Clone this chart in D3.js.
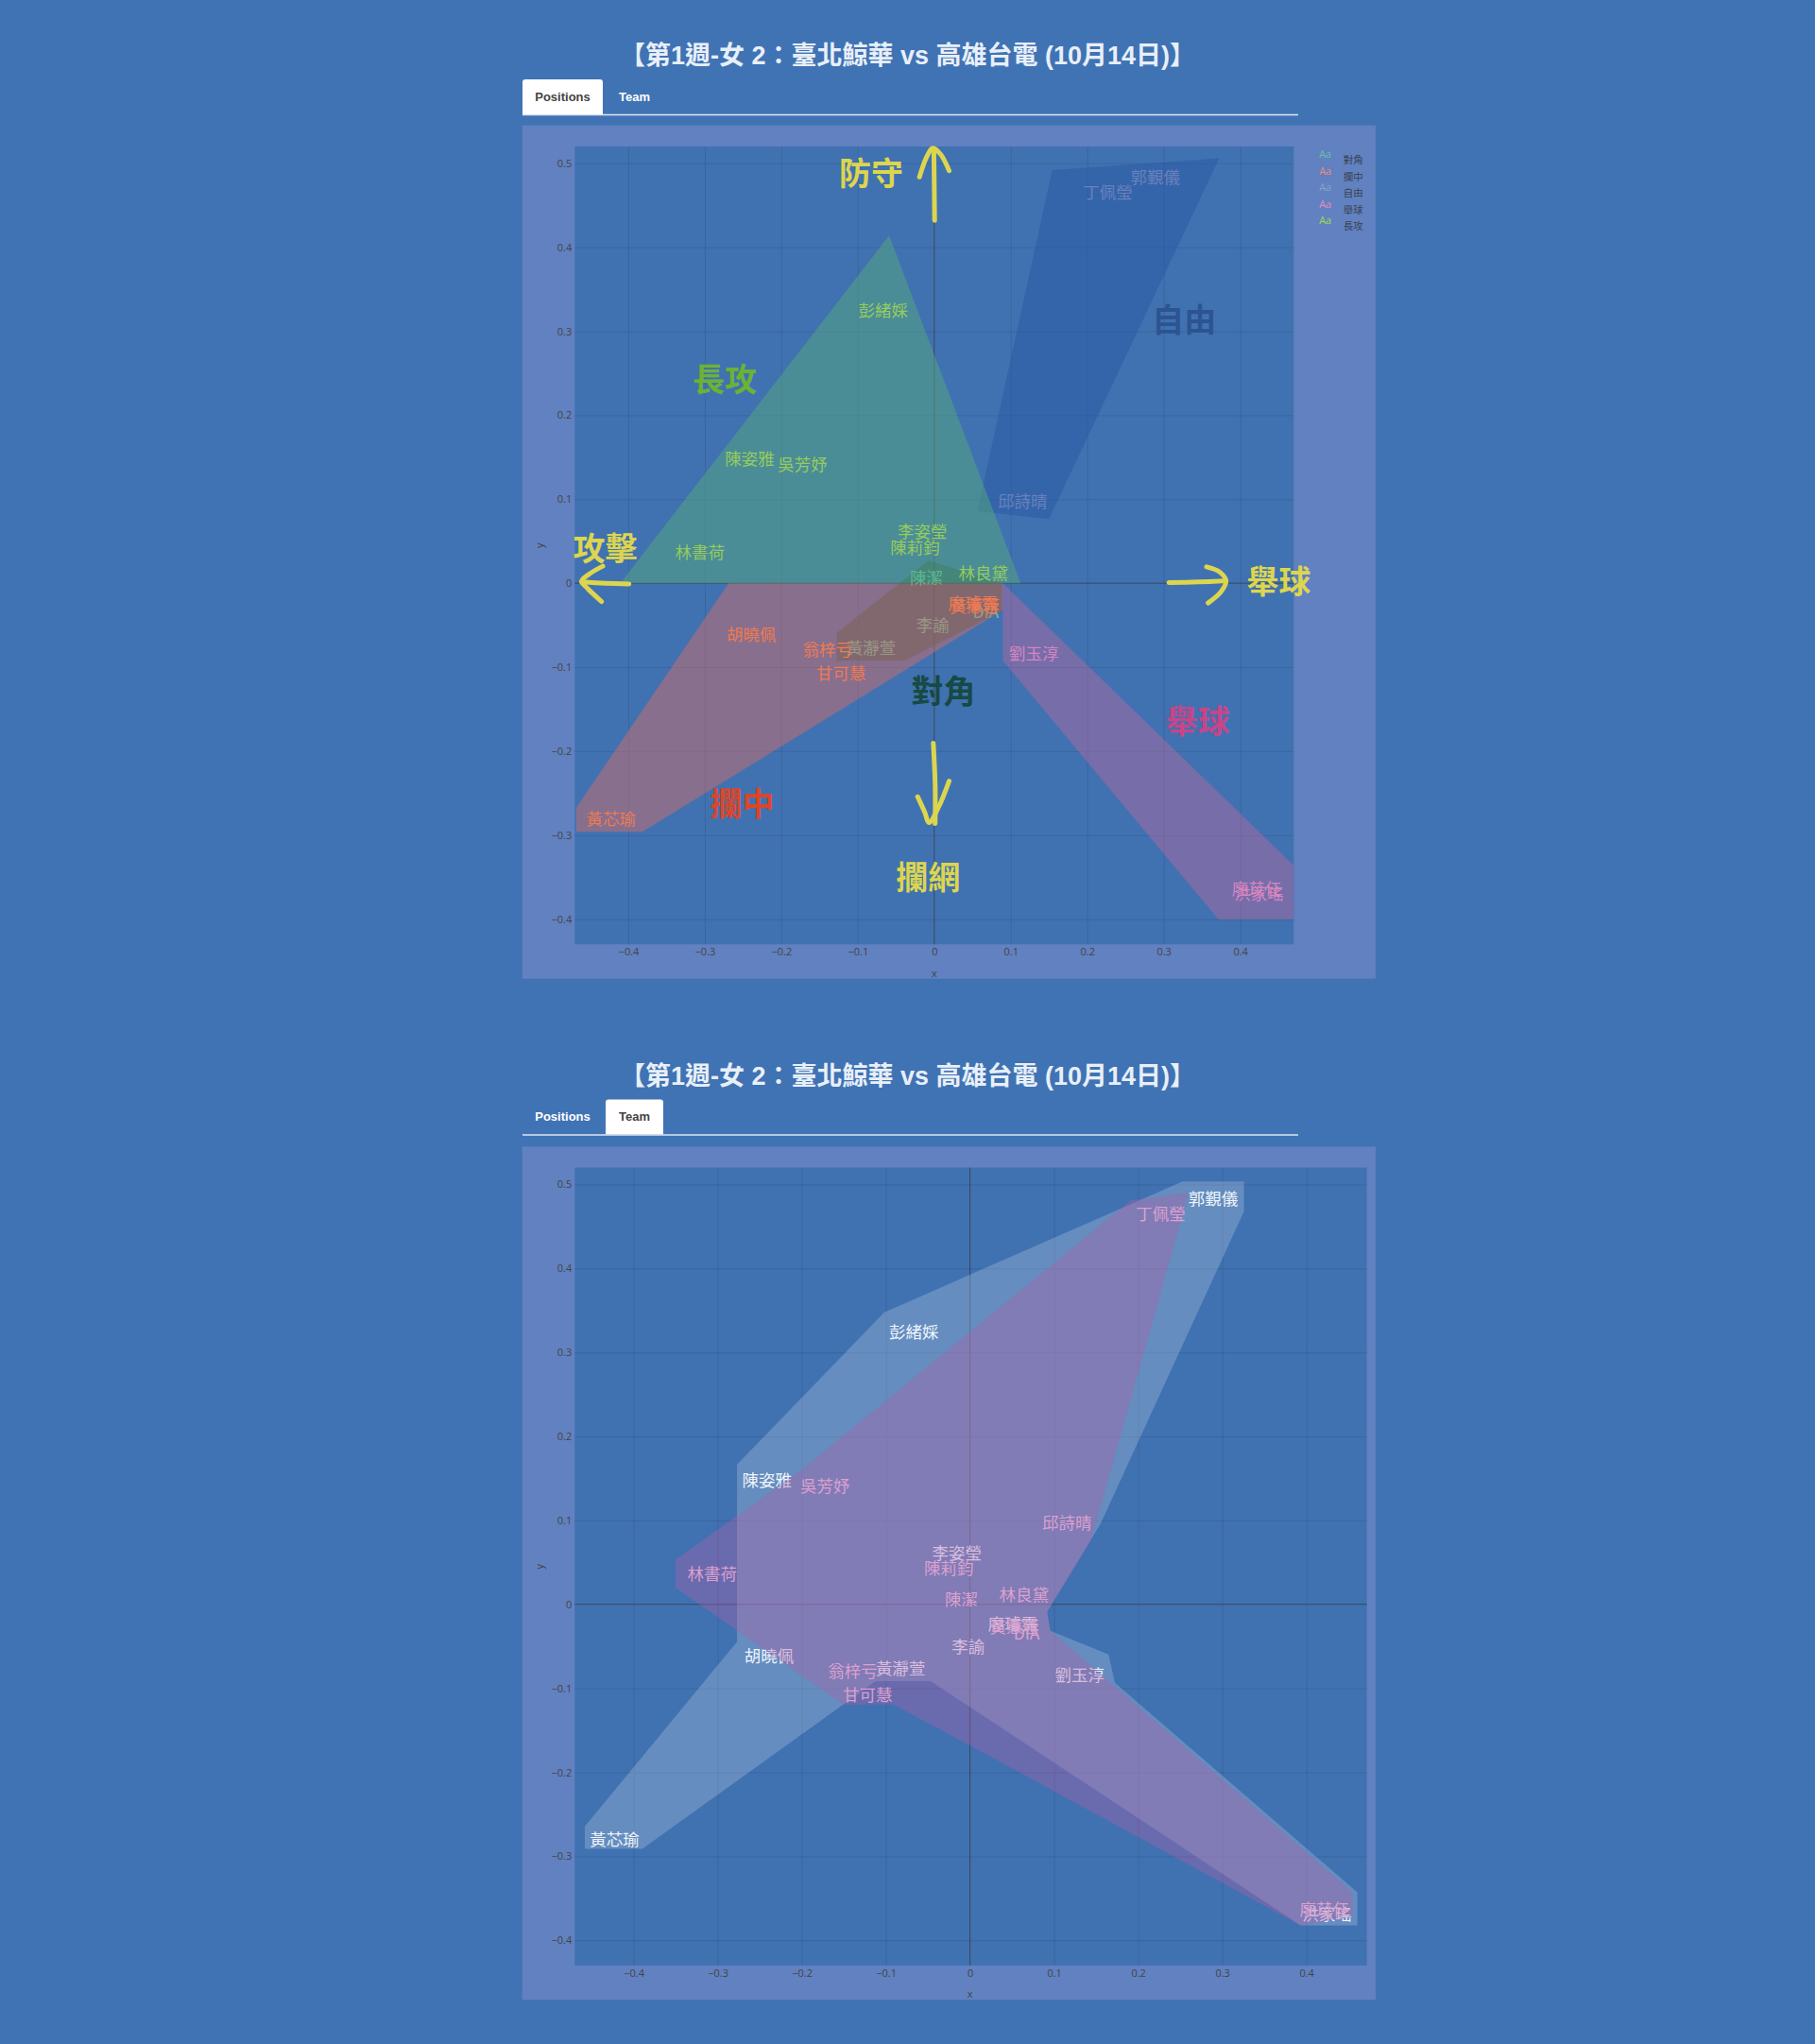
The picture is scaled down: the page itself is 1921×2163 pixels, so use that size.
<!DOCTYPE html>
<html>
<head>
<meta charset="utf-8">
<script src="https://cdn.jsdelivr.net/npm/d3@7"></script>
<style>
  body { margin: 0; background: #4073b4; }
  svg { display: block; }
</style>
</head>
<body>
<svg id="page" width="1921" height="2163"></svg>
<script>
// ---- data ----
const titleText = "【第1週-女 2：臺北鯨華 vs 高雄台電 (10月14日)】";
const tabNames = ["Positions", "Team"];

const positions = ["對角", "攔中", "自由", "舉球", "長攻"];
const teams = ["A", "B"];

const playerNames = ["陳潔", "李諭", "黃瀞萱", "DIA", "胡曉佩", "翁梓亏", "甘可慧", "黃芯瑜", "廖璿霈", "黃蕙蓉",
  "郭覲儀", "丁佩瑩", "邱詩晴", "劉玉淳", "洪家瑤", "廖苡任",
  "彭緒婇", "陳姿雅", "吳芳妤", "林書荷", "李姿瑩", "陳莉鈞", "林良黛"];
const playerX = [-0.0101, -0.002, -0.0824, 0.0674, -0.239, -0.1395, -0.1218, -0.4225, 0.051, 0.053,
  0.2891, 0.2268, 0.1153, 0.1304, 0.4245, 0.4215,
  -0.0668, -0.2413, -0.1722, -0.3065, -0.0155, -0.025, 0.0643];
const playerY = [0.0072, -0.049, -0.0753, -0.0333, -0.0605, -0.0786, -0.1063, -0.2792, -0.0225, -0.026,
  0.4846, 0.4662, 0.0981, -0.0829, -0.368, -0.3625,
  0.326, 0.1489, 0.1422, 0.0378, 0.0625, 0.044, 0.0126];
const playerPos = ["對角", "對角", "對角", "對角", "攔中", "攔中", "攔中", "攔中", "攔中", "攔中",
  "自由", "自由", "自由", "舉球", "舉球", "舉球",
  "長攻", "長攻", "長攻", "長攻", "長攻", "長攻", "長攻"];
const playerTeam = ["B", "A", "A", "B", "A", "B", "B", "A", "A", "B",
  "A", "B", "B", "A", "A", "B",
  "A", "A", "B", "B", "A", "B", "B"];

// outline of each position group (x, y)
const hullDiag = [[-0.0081, 0.027], [0.0885, 0.0], [0.0885, -0.033], [-0.039, -0.0925], [-0.1275, -0.0925], [-0.1275, -0.0593]];
const hullMid = [[-0.2687, 0], [0.0898, 0], [0.0898, -0.032], [-0.3815, -0.296], [-0.468, -0.296], [-0.468, -0.2674]];
const hullLibero = [[0.1543, 0.492], [0.3725, 0.5058], [0.150, 0.0765], [0.0564, 0.0858]];
const hullSetter = [[0.0898, 0], [0.48, -0.345], [0.48, -0.4005], [0.3716, -0.4005], [0.0898, -0.0923]];
const hullOutside = [[-0.059, 0.414], [-0.4104, 0], [0.113, 0]];

// outline of each team
const hullTeamA = [[-0.458, -0.2643], [-0.277, -0.0446], [-0.277, 0.1664], [-0.1019, 0.3477], [0.2528, 0.5035],
  [0.3258, 0.5035], [0.3258, 0.4678], [0.1554, 0.0962], [0.0917, -0.0089], [0.0955, -0.0314], [0.1648, -0.0596],
  [0.1723, -0.0933], [0.4607, -0.343], [0.4607, -0.3824], [0.3933, -0.3824], [-0.0469, -0.0915], [-0.112, -0.0915],
  [-0.3896, -0.2912], [-0.458, -0.2912]];
const hullTeamB = [[-0.3502, 0.053], [-0.2004, 0.16], [0.191, 0.481], [0.2602, 0.4903], [0.144, 0.0756], [0.0917, -0.0089],
  [0.0955, -0.031], [0.455, -0.343], [0.455, -0.372], [0.393, -0.3824], [0.015, -0.176], [-0.0918, -0.119],
  [-0.15, -0.1196], [-0.3502, 0.02]];

const xTicks = [-0.4, -0.3, -0.2, -0.1, 0, 0.1, 0.2, 0.3, 0.4];
const yTicks = [-0.4, -0.3, -0.2, -0.1, 0, 0.1, 0.2, 0.3, 0.4, 0.5];

// big annotations on the positions chart
const noteText = ["防守", "攻擊", "舉球", "攔網", "長攻", "自由", "對角", "攔中", "舉球"];
const noteX = [-0.0826, -0.4303, 0.4506, -0.0081, -0.2741, 0.3268, 0.012, -0.251, 0.3447];
const noteY = [0.4899, 0.0439, 0.0045, -0.348, 0.2444, 0.3157, -0.1262, -0.26, -0.1624];
const noteColor = ["#ddd54e", "#ddd54e", "#ddd54e", "#ddd54e", "#6cb234", "#2c5490", "#164a44", "#dc4527", "#c94488"];

// hand drawn arrows (strokes in data units)
const arrowStrokes = [
  [[0.0005, 0.432], [0.0, 0.475], [-0.0005, 0.517]],
  [[-0.0193, 0.4837], [-0.0102, 0.507], [-0.002, 0.518], [0.0083, 0.5107], [0.0194, 0.4912]],
  [[-0.3991, -0.001], [-0.43, 0.0], [-0.4609, 0.0015]],
  [[-0.4333, 0.0203], [-0.4506, 0.0112], [-0.4609, 0.0026], [-0.4526, -0.0068], [-0.4349, -0.0218]],
  [[0.3067, 0.0007], [0.345, 0.0015], [0.3807, 0.0026]],
  [[0.356, 0.0195], [0.3725, 0.0138], [0.3815, 0.0026], [0.3746, -0.0106], [0.358, -0.0236]],
  [[-0.0012, -0.1906], [0.0012, -0.2393], [0.0012, -0.2862]],
  [[-0.0217, -0.2543], [-0.0123, -0.273], [-0.0069, -0.2851], [0.0062, -0.2655], [0.0194, -0.2356]]
];

// ---- styles ----
const posFill = { "對角": "rgba(36,88,60,0.5)", "攔中": "rgba(208,108,104,0.5)", "自由": "rgba(40,88,164,0.5)",
  "舉球": "rgba(172,104,160,0.5)", "長攻": "rgba(86,168,124,0.5)" };
const posText = { "對角": "#66c2a5", "攔中": "#ee7a52", "自由": "#6a80bb", "舉球": "#d886c0", "長攻": "#94cc5c" };
const posLegend = { "對角": "#66c2a5", "攔中": "#f08a78", "自由": "#8da0cb", "舉球": "#e78ac3", "長攻": "#a6d854" };
const posHull = { "對角": hullDiag, "攔中": hullMid, "自由": hullLibero, "舉球": hullSetter, "長攻": hullOutside };
const teamFill = { A: "rgba(180,200,222,0.32)", B: "rgba(180,92,165,0.36)" };
const teamText = { A: "#eef4fb", B: "#dca0cf" };
const teamHull = { A: hullTeamA, B: hullTeamB };

const players = playerNames.map((n, i) => ({ name: n, x: playerX[i], y: playerY[i], pos: playerPos[i], team: playerTeam[i] }));

const svg = d3.select("#page");
const CJK = "'Noto Sans CJK TC', 'Noto Sans', sans-serif";
const fmt = d => d === 0 ? "0" : d3.format(".1f")(d);

function drawHeader(top, active) {
  svg.append("text")
    .attr("x", 960.5).attr("y", top + 59)
    .attr("text-anchor", "middle").attr("dominant-baseline", "central")
    .style("font", "bold 27px 'Liberation Sans', 'Noto Sans CJK TC', sans-serif")
    .style("fill", "#e8eff8")
    .text(titleText);

  const tabX = [553, 641], tabW = [85, 61];
  tabNames.forEach((t, i) => {
    if (t === active) {
      svg.append("path")
        .attr("d", `M${tabX[i]},${top + 121} V${top + 87} q0,-3 3,-3 H${tabX[i] + tabW[i] - 3} q3,0 3,3 V${top + 121} Z`)
        .style("fill", "#ffffff");
    }
    svg.append("text")
      .attr("x", tabX[i] + tabW[i] / 2).attr("y", top + 102)
      .attr("text-anchor", "middle").attr("dominant-baseline", "central")
      .style("font", "bold 13px 'Liberation Sans', Arial, sans-serif")
      .style("fill", t === active ? "#444" : "#ffffff")
      .text(t);
  });
  svg.append("line")
    .attr("x1", 553).attr("x2", 1374).attr("y1", top + 121.5).attr("y2", top + 121.5)
    .style("stroke", "#dfe7f2").style("stroke-width", 1.3);
}

function drawChart(cfg) {
  const g = svg.append("g");
  g.append("rect").attr("x", 552.7).attr("y", cfg.top).attr("width", 903.3).attr("height", 903)
    .style("fill", "#6181c0");

  const px = 608.3, py = cfg.top + 22.3, pw = cfg.plotW, ph = 844.3;
  const x = d3.scaleLinear().domain(cfg.xDomain).range([px, px + pw]);
  const y = d3.scaleLinear().domain([-0.43, 0.52]).range([py + ph, py]);

  g.append("rect").attr("x", px).attr("y", py).attr("width", pw).attr("height", ph).style("fill", "#4072b2");

  // grid
  g.append("g").attr("transform", `translate(0,${py + ph})`)
    .call(d3.axisBottom(x).tickValues(xTicks.filter(d => d !== 0)).tickSize(-ph).tickFormat(""))
    .call(a => a.select(".domain").remove())
    .selectAll("line").style("stroke", "rgba(40,55,85,0.2)");
  g.append("g").attr("transform", `translate(${px},0)`)
    .call(d3.axisLeft(y).tickValues(yTicks.filter(d => d !== 0)).tickSize(-pw).tickFormat(""))
    .call(a => a.select(".domain").remove())
    .selectAll("line").style("stroke", "rgba(40,55,85,0.2)");

  // zero lines
  g.append("line").attr("x1", x(0)).attr("x2", x(0)).attr("y1", py).attr("y2", py + ph)
    .style("stroke", "#3b4658").style("stroke-width", 1);
  g.append("line").attr("x1", px).attr("x2", px + pw).attr("y1", y(0)).attr("y2", y(0))
    .style("stroke", "#3b4658").style("stroke-width", 1);

  // tick labels
  g.append("g").attr("transform", `translate(0,${py + ph})`)
    .call(d3.axisBottom(x).tickValues(xTicks).tickSize(0).tickPadding(4).tickFormat(fmt))
    .call(a => a.select(".domain").remove())
    .selectAll("text").style("font", "11px 'Open Sans', 'DejaVu Sans', sans-serif").style("fill", "#444");
  g.append("g").attr("transform", `translate(${px},0)`)
    .call(d3.axisLeft(y).tickValues(yTicks).tickSize(0).tickPadding(3).tickFormat(fmt))
    .call(a => a.select(".domain").remove())
    .selectAll("text").style("font", "11px 'Open Sans', 'DejaVu Sans', sans-serif").style("fill", "#444");

  g.append("text").attr("x", x(0)).attr("y", py + ph + 30)
    .attr("text-anchor", "middle").attr("dominant-baseline", "central")
    .style("font", "11px 'Open Sans', sans-serif").style("fill", "#444").text("x");
  g.append("text").attr("transform", `translate(${570.7},${py + ph / 2}) rotate(-90)`)
    .attr("text-anchor", "middle").attr("dominant-baseline", "central")
    .style("font", "11px 'Open Sans', sans-serif").style("fill", "#444").text("y");

  // traces, clipped to the plot area
  g.append("clipPath").attr("id", cfg.id + "-clip")
    .append("rect").attr("x", px).attr("y", py).attr("width", pw).attr("height", ph);
  const traces = g.append("g").attr("clip-path", `url(#${cfg.id}-clip)`);
  const area = d3.line().x(d => x(d[0])).y(d => y(d[1]));

  cfg.keys.forEach(k => {
    const tg = traces.append("g");
    tg.append("path").datum(cfg.hull[k]).attr("d", d => area(d) + "Z").style("fill", cfg.fill[k]);
    tg.selectAll("text")
      .data(players.filter(p => p[cfg.field] === k))
      .enter().append("text")
      .attr("x", d => x(d.x)).attr("y", d => y(d.y))
      .attr("text-anchor", "middle").attr("dominant-baseline", "central")
      .style("font", `17.5px ${CJK}`)
      .style("fill", cfg.textColor[k])
      .text(d => d.name);
  });
  return { g, x, y, px, py, pw, ph };
}

// ---- chart 1 : positions ----
drawHeader(0, "Positions");
const c1 = drawChart({ id: "pos", top: 132.7, plotW: 761, xDomain: [-0.47, 0.47],
  keys: positions, field: "pos", hull: posHull, fill: posFill, textColor: posText });

// legend
const legend = c1.g.append("g");
positions.forEach((p, i) => {
  const ly = 162.7 + i * 17.5;
  legend.append("text").attr("x", 1402.7).attr("y", ly)
    .attr("text-anchor", "middle").attr("dominant-baseline", "central")
    .style("font", "11px 'Open Sans', sans-serif").style("fill", posLegend[p]).text("Aa");
  legend.append("text").attr("x", 1421.7).attr("y", ly + 6)
    .attr("dominant-baseline", "central")
    .style("font", `10.5px ${CJK}`).style("fill", "#3a4250").text(p);
});

// arrows
const stroke = d3.line().x(d => c1.x(d[0])).y(d => c1.y(d[1])).curve(d3.curveCatmullRom);
c1.g.selectAll(".arrow").data(arrowStrokes).enter().append("path")
  .attr("class", "arrow").attr("d", stroke)
  .style("fill", "none").style("stroke", "#ddd54e").style("stroke-width", 5)
  .style("stroke-linecap", "round").style("stroke-linejoin", "round");

// annotations
c1.g.selectAll(".note").data(noteText).enter().append("text")
  .attr("class", "note")
  .attr("x", (d, i) => c1.x(noteX[i])).attr("y", (d, i) => c1.y(noteY[i]))
  .attr("text-anchor", "middle").attr("dominant-baseline", "central")
  .style("font", `bold 34px ${CJK}`)
  .style("fill", (d, i) => noteColor[i])
  .text(d => d);

// ---- chart 2 : team ----
drawHeader(1079.5, "Team");
drawChart({ id: "team", top: 1213.3, plotW: 838.4, xDomain: [-0.47, 0.472],
  keys: teams, field: "team", hull: teamHull, fill: teamFill, textColor: teamText });
</script>
</body>
</html>
